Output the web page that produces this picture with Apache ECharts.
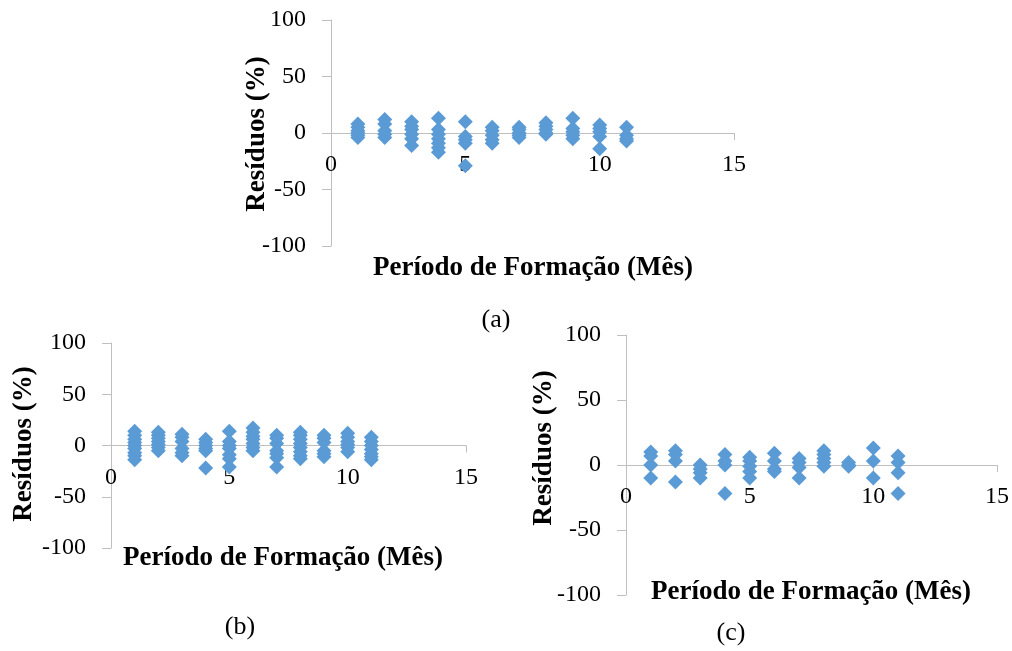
<!DOCTYPE html>
<html>
<head>
<meta charset="utf-8">
<script src="https://cdn.jsdelivr.net/npm/echarts@6/dist/echarts.min.js"></script>
<style>
  html, body { margin: 0; padding: 0; background: #ffffff; }
  #chart { width: 1012px; height: 651px; }
</style>
</head>
<body>
<div id="chart"></div>
<script>
// Formation period (months) shared by all three panels
const months = [1, 2, 3, 4, 5, 6, 7, 8, 9, 10, 11];

// Residuals (%) for each month, panel (a)
const residualsA = [
  [8, 5, 2, 0, -2, -4],
  [12, 8, 2, -1, -4],
  [10, 6, 3, -1, -5, -11],
  [13, 3, -1, -5, -9, -13, -17],
  [10, -3, -6, -9, -29],
  [5, 2, -2, -6, -9],
  [5, 3, 0, -2, -4],
  [9, 6, 3, 0, -1],
  [13, 4, 1, -2, -5],
  [7, 4, 1, -3, -14],
  [5, -2, -5, -7]
];

// Residuals (%) for each month, panel (b)
const residualsB = [
  [14, 10, 6, 3, 0, -3, -7, -10, -14],
  [13, 10, 7, 4, 1, -2, -5],
  [11, 8, 4, -3, -7, -10],
  [6, 3, 0, -3, -5, -22],
  [14, 4, 0, -3, -9, -13, -21],
  [17, 13, 9, 6, 2, -2, -5],
  [10, 7, 2, -5, -8, -12, -21],
  [13, 10, 6, 2, -2, -6, -10, -13],
  [10, 7, 3, -5, -8, -11],
  [12, 8, 4, 1, -2, -6],
  [8, 4, 0, -4, -8, -11, -14]
];

// Residuals (%) for each month, panel (c)
const residualsC = [
  [10, 7, 0, -10],
  [11, 8, 3, -13],
  [0, -3, -6, -10],
  [8, 3, 0, -22],
  [6, 3, -1, -5, -10],
  [9, 3, -3, -5],
  [5, 2, -2, -10],
  [11, 8, 5, 2, -1],
  [2, 0, -1],
  [13, 3, -10],
  [7, 2, -6, -22]
];

// Axis ticks
const xTicks = { min: 0, max: 15, interval: 5 };
const yTicks = { min: -100, max: 100, interval: 50 };

const xTitle = 'Período de Formação (Mês)';
const yTitle = 'Resíduos (%)';
const panelLabels = ['(a)', '(b)', '(c)'];

function toPoints(residuals) {
  const pts = [];
  months.forEach((m, i) => residuals[i].forEach(v => pts.push([m, v])));
  return pts;
}

const serif = 'Liberation Serif, Times New Roman, serif';
const axisGray = '#bfbfbf';

const grids = [
  { left: 331, top: 20, width: 403, height: 226 },
  { left: 111, top: 343, width: 355, height: 205 },
  { left: 626, top: 335, width: 371, height: 260 }
];

// The y range is symmetric, so the month axis sits halfway up each grid
function makeX(i) {
  return {
    type: 'value', gridIndex: i, position: 'bottom',
    offset: -grids[i].height / 2,
    min: xTicks.min, max: xTicks.max, interval: xTicks.interval,
    splitLine: { show: false },
    axisLine: { show: true, onZero: false, lineStyle: { color: axisGray, width: 1 } },
    axisTick: { show: true, inside: false, length: 7, lineStyle: { color: axisGray } },
    axisLabel: { color: '#000', fontFamily: serif, fontSize: 24, margin: 20, showMinLabel: true, showMaxLabel: true }
  };
}
function makeY(i) {
  return {
    type: 'value', gridIndex: i,
    min: yTicks.min, max: yTicks.max, interval: yTicks.interval,
    splitLine: { show: false },
    axisLine: { show: true, onZero: false, lineStyle: { color: axisGray, width: 1 } },
    axisTick: { show: true, inside: false, length: 9, lineStyle: { color: axisGray } },
    axisLabel: { color: '#000', fontFamily: serif, fontSize: 24, margin: 25 }
  };
}

const allResiduals = [residualsA, residualsB, residualsC];

const series = allResiduals.map((r, i) => ({
  type: 'scatter',
  xAxisIndex: i, yAxisIndex: i,
  symbol: 'diamond',
  symbolSize: [15, 15],
  itemStyle: { color: '#5b9bd5', opacity: 1 },
  data: toPoints(r)
}));

// Axis titles and panel captions
const titleFont = 'bold 27px ' + serif;
function text(x, y, str, font, rot) {
  return {
    type: 'text', x: x, y: y, rotation: rot || 0,
    style: { text: str, font: font, fill: '#000', align: 'center', verticalAlign: 'middle' }
  };
}
const graphics = [
  text(257, 134, yTitle, titleFont, Math.PI / 2),
  text(533, 268, xTitle, titleFont),
  text(496, 320, panelLabels[0], '26px ' + serif),

  text(24, 444, yTitle, titleFont, Math.PI / 2),
  text(283, 558, xTitle, titleFont),
  text(240, 627, panelLabels[1], '26px ' + serif),

  text(544, 448, yTitle, titleFont, Math.PI / 2),
  text(811, 592, xTitle, titleFont),
  text(731, 633, panelLabels[2], '26px ' + serif)
];

const chart = echarts.init(document.getElementById('chart'), null, { renderer: 'canvas' });
chart.setOption({
  animation: false,
  backgroundColor: '#ffffff',
  grid: grids.map(g => Object.assign({ containLabel: false }, g)),
  xAxis: grids.map((g, i) => makeX(i)),
  yAxis: grids.map((g, i) => makeY(i)),
  series: series,
  graphic: graphics
});
</script>
</body>
</html>
